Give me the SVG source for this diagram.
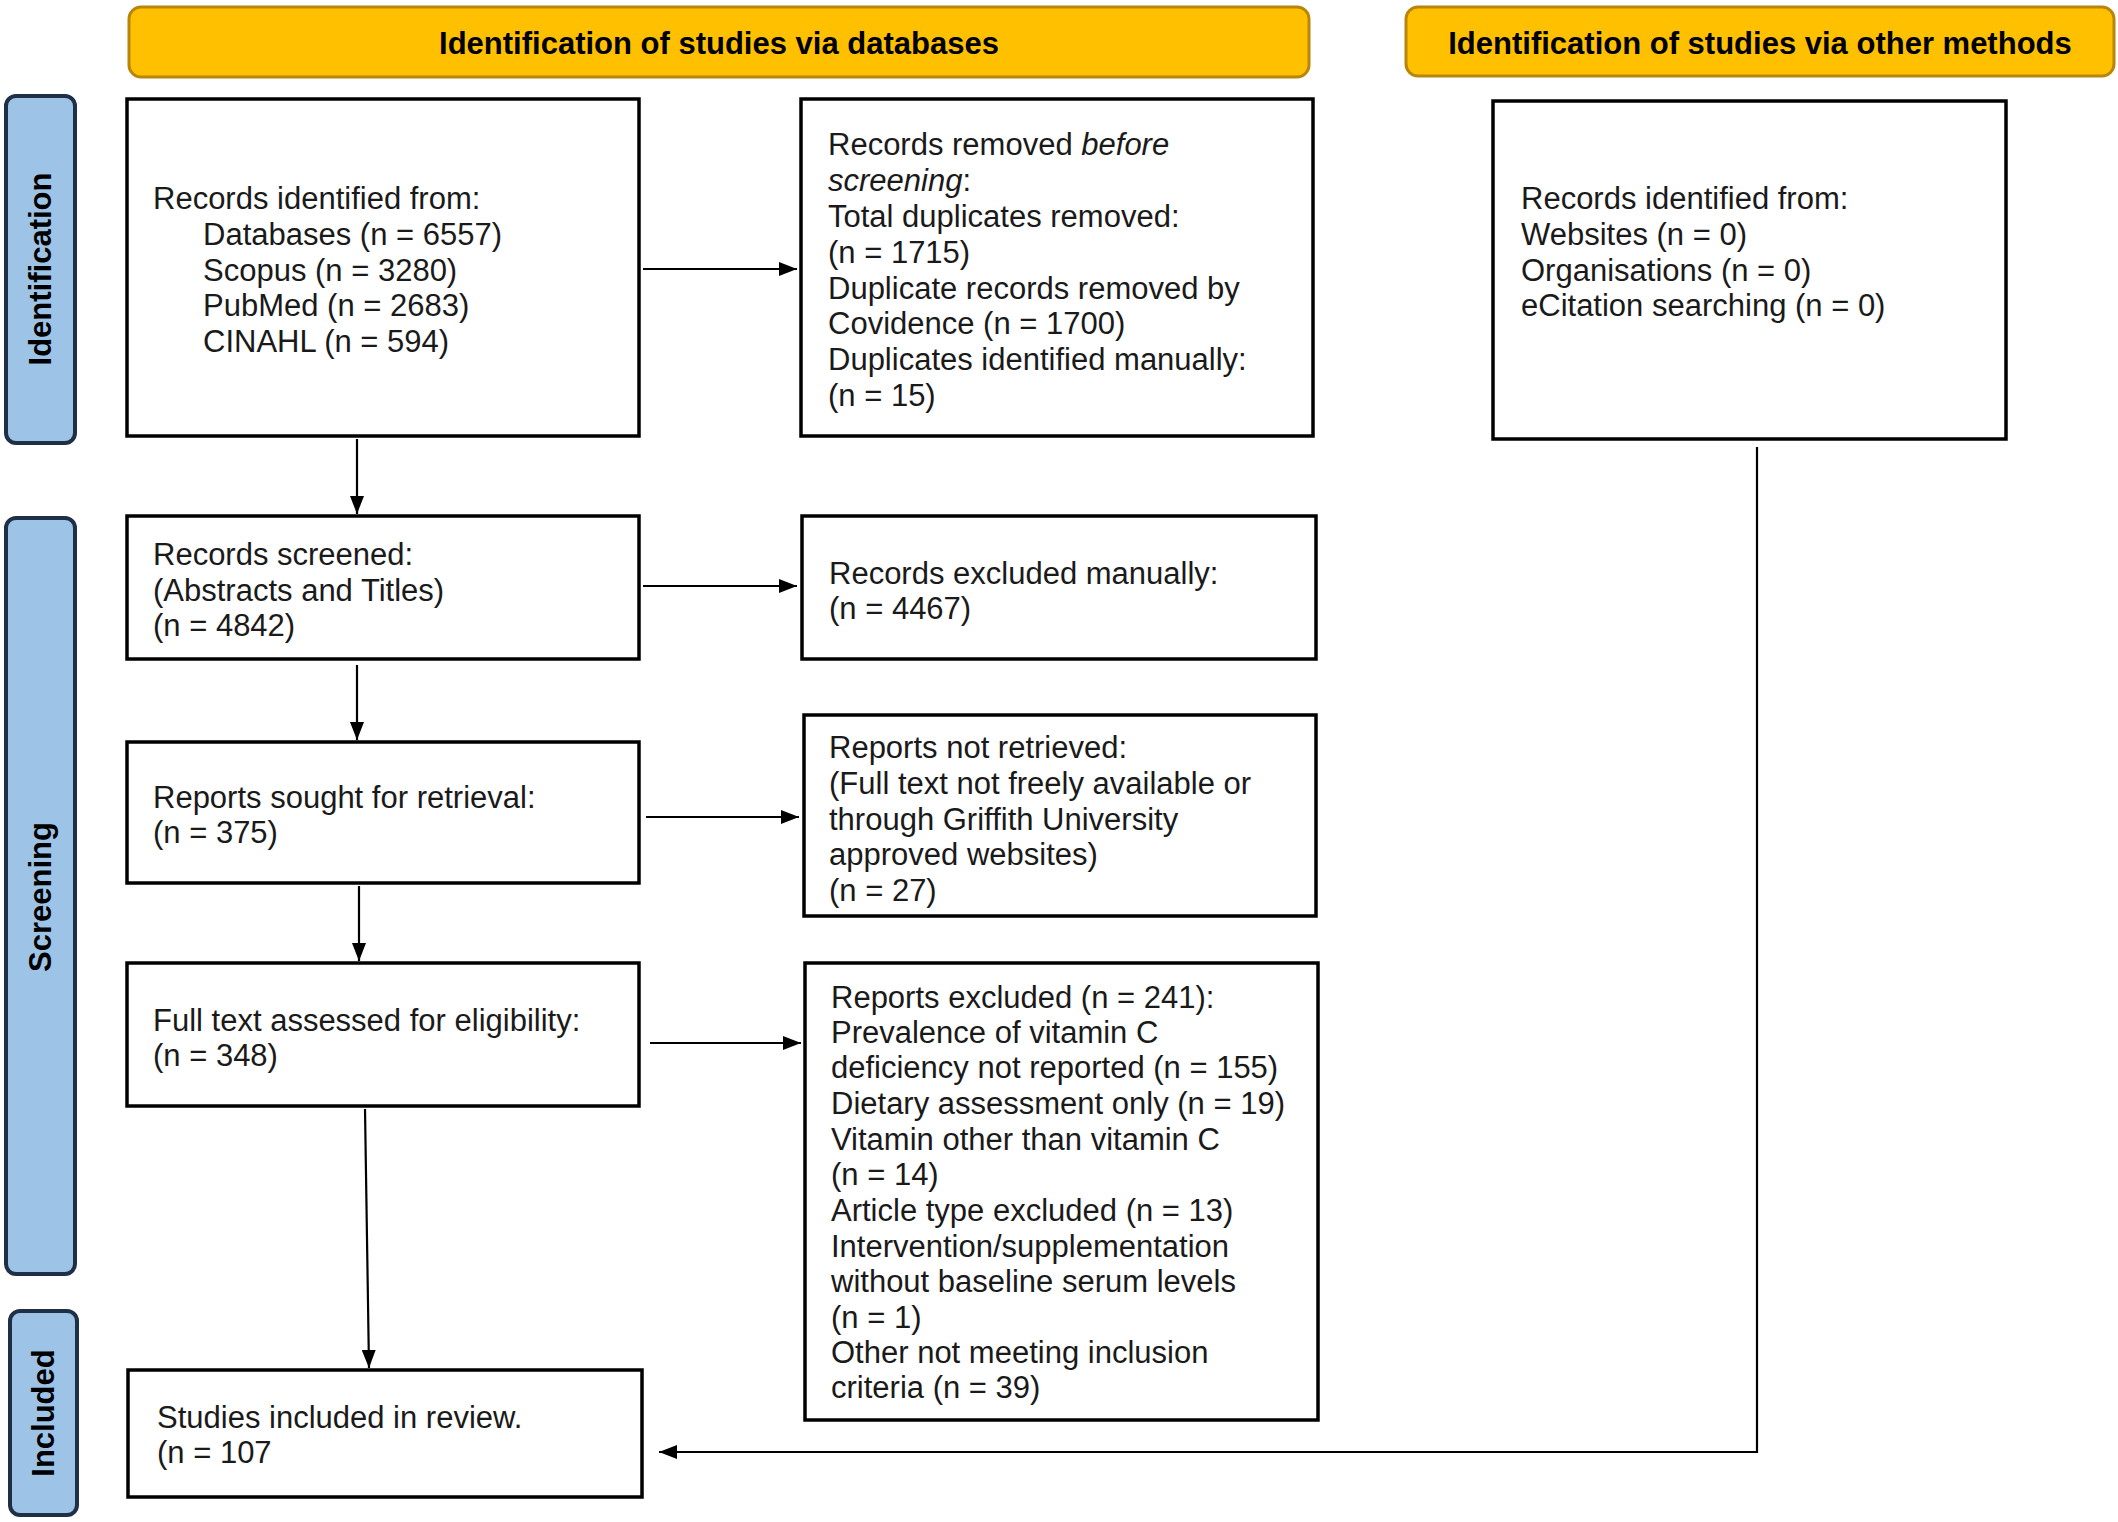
<svg xmlns="http://www.w3.org/2000/svg" width="2118" height="1522" viewBox="0 0 2118 1522">
<defs>
<style>
.hdr{fill:#FFC000;stroke:#B8860B;stroke-width:3}
.side{fill:#9DC3E6;stroke:#1F2F45;stroke-width:4}
.box{fill:#fff;stroke:#000;stroke-width:3.5}
.t{font-family:"Liberation Sans",Arial,sans-serif;font-size:31px;fill:#1a1a1a}
.hb{font-family:"Liberation Sans",Arial,sans-serif;font-size:31px;font-weight:bold;fill:#000;text-anchor:middle}
.sb{font-family:"Liberation Sans",Arial,sans-serif;font-size:31px;font-weight:bold;fill:#000;text-anchor:middle}
.c{fill:none;stroke:#000;stroke-width:2.2}
</style>
<marker id="a" viewBox="0 0 18 14" refX="18" refY="7" markerWidth="18" markerHeight="14" orient="auto" markerUnits="userSpaceOnUse">
<path d="M0,0 L18,7 L0,14 z" fill="#000"/>
</marker>
</defs>
<rect width="2118" height="1522" fill="#fff"/>

<g id="header-databases">
<rect class="hdr" x="129" y="7" width="1180" height="70" rx="12"/>
<text class="hb" x="719" y="54">Identification of studies via databases</text>
</g>
<g id="header-other">
<rect class="hdr" x="1406" y="7" width="708" height="69" rx="12"/>
<text class="hb" x="1760" y="54">Identification of studies via other methods</text>
</g>

<g id="side-identification">
<rect class="side" x="6" y="96" width="69" height="347" rx="10"/>
<text class="sb" transform="translate(51,269) rotate(-90)">Identification</text>
</g>
<g id="side-screening">
<rect class="side" x="6" y="518" width="69" height="756" rx="10"/>
<text class="sb" transform="translate(51,897) rotate(-90)">Screening</text>
</g>
<g id="side-included">
<rect class="side" x="10" y="1311" width="67" height="204" rx="10"/>
<text class="sb" transform="translate(54,1413) rotate(-90)">Included</text>
</g>

<g id="records-identified">
<rect class="box" x="127" y="99" width="512" height="337"/>
<text class="t" x="153" y="209">Records identified from:</text>
<text class="t" x="203" y="245">Databases (n = 6557)</text>
<text class="t" x="203" y="281">Scopus (n = 3280)</text>
<text class="t" x="203" y="316">PubMed (n = 2683)</text>
<text class="t" x="203" y="352">CINAHL (n = 594)</text>
</g>

<g id="records-removed">
<rect class="box" x="801" y="99" width="512" height="337"/>
<text class="t" x="828" y="155">Records removed <tspan font-style="italic">before</tspan></text>
<text class="t" x="828" y="191"><tspan font-style="italic">screening</tspan>:</text>
<text class="t" x="828" y="227">Total duplicates removed:</text>
<text class="t" x="828" y="263">(n = 1715)</text>
<text class="t" x="828" y="299">Duplicate records removed by</text>
<text class="t" x="828" y="334">Covidence (n = 1700)</text>
<text class="t" x="828" y="370">Duplicates identified manually:</text>
<text class="t" x="828" y="406">(n = 15)</text>
</g>

<g id="records-other">
<rect class="box" x="1493" y="101" width="513" height="338"/>
<text class="t" x="1521" y="209">Records identified from:</text>
<text class="t" x="1521" y="245">Websites (n = 0)</text>
<text class="t" x="1521" y="281">Organisations (n = 0)</text>
<text class="t" x="1521" y="316">eCitation searching (n = 0)</text>
</g>

<g id="records-screened">
<rect class="box" x="127" y="516" width="512" height="143"/>
<text class="t" x="153" y="565">Records screened:</text>
<text class="t" x="153" y="601">(Abstracts and Titles)</text>
<text class="t" x="153" y="636">(n = 4842)</text>
</g>

<g id="records-excluded">
<rect class="box" x="802" y="516" width="514" height="143"/>
<text class="t" x="829" y="584">Records excluded manually:</text>
<text class="t" x="829" y="619">(n = 4467)</text>
</g>

<g id="reports-sought">
<rect class="box" x="127" y="742" width="512" height="141"/>
<text class="t" x="153" y="808">Reports sought for retrieval:</text>
<text class="t" x="153" y="843">(n = 375)</text>
</g>

<g id="reports-not-retrieved">
<rect class="box" x="804" y="715" width="512" height="201"/>
<text class="t" x="829" y="758">Reports not retrieved:</text>
<text class="t" x="829" y="794">(Full text not freely available or</text>
<text class="t" x="829" y="830">through Griffith University</text>
<text class="t" x="829" y="865">approved websites)</text>
<text class="t" x="829" y="901">(n = 27)</text>
</g>

<g id="full-text">
<rect class="box" x="127" y="963" width="512" height="143"/>
<text class="t" x="153" y="1031">Full text assessed for eligibility:</text>
<text class="t" x="153" y="1066">(n = 348)</text>
</g>

<g id="reports-excluded">
<rect class="box" x="805" y="963" width="513" height="457"/>
<text class="t" x="831" y="1008">Reports excluded (n = 241):</text>
<text class="t" x="831" y="1043">Prevalence of vitamin C</text>
<text class="t" x="831" y="1078">deficiency not reported (n = 155)</text>
<text class="t" x="831" y="1114">Dietary assessment only (n = 19)</text>
<text class="t" x="831" y="1150">Vitamin other than vitamin C</text>
<text class="t" x="831" y="1185">(n = 14)</text>
<text class="t" x="831" y="1221">Article type excluded (n = 13)</text>
<text class="t" x="831" y="1257">Intervention/supplementation</text>
<text class="t" x="831" y="1292">without baseline serum levels</text>
<text class="t" x="831" y="1328">(n = 1)</text>
<text class="t" x="831" y="1363">Other not meeting inclusion</text>
<text class="t" x="831" y="1398">criteria (n = 39)</text>
</g>

<g id="studies-included">
<rect class="box" x="128" y="1370" width="514" height="127"/>
<text class="t" x="157" y="1428">Studies included in review.</text>
<text class="t" x="157" y="1463">(n = 107</text>
</g>

<g id="connectors">
<line class="c" x1="643" y1="269" x2="797" y2="269" marker-end="url(#a)"/>
<line class="c" x1="357" y1="439" x2="357" y2="514" marker-end="url(#a)"/>
<line class="c" x1="643" y1="586" x2="797" y2="586" marker-end="url(#a)"/>
<line class="c" x1="357" y1="665" x2="357" y2="740" marker-end="url(#a)"/>
<line class="c" x1="646" y1="817" x2="799" y2="817" marker-end="url(#a)"/>
<line class="c" x1="359" y1="886" x2="359" y2="961" marker-end="url(#a)"/>
<line class="c" x1="650" y1="1043" x2="801" y2="1043" marker-end="url(#a)"/>
<line class="c" x1="365" y1="1109" x2="369" y2="1368" marker-end="url(#a)"/>
<polyline class="c" points="1757,447 1757,1452 659,1452" marker-end="url(#a)"/>
</g>
</svg>
